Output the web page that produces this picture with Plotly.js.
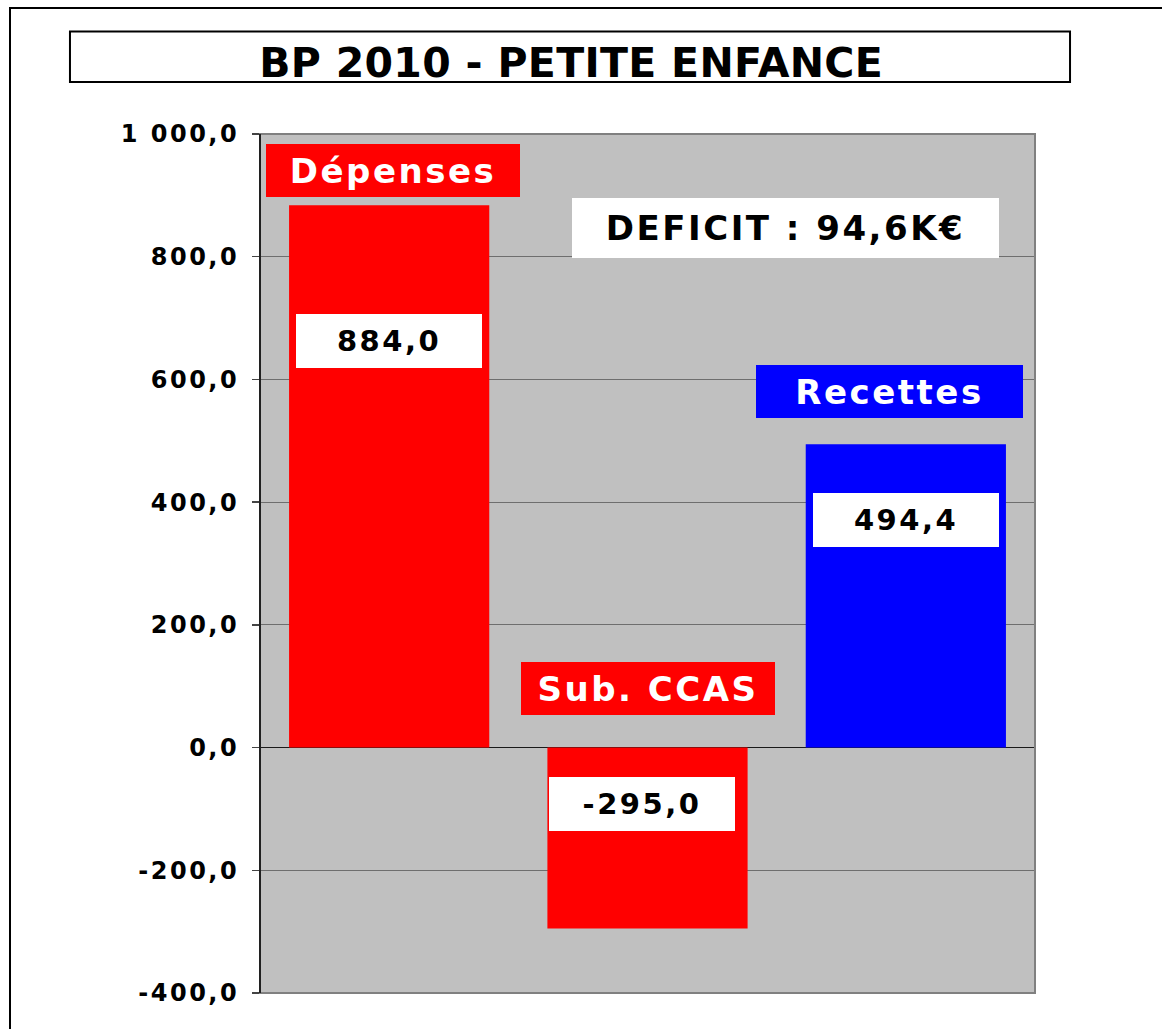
<!DOCTYPE html>
<html>
<head>
<meta charset="utf-8">
<script src="https://cdn.plot.ly/plotly-3.0.1.min.js"></script>
<style>
  html, body { margin: 0; padding: 0; background: #ffffff; overflow: hidden; }
  #wrap { position: relative; width: 1162px; height: 1029px; overflow: hidden; }
  #frame { position: absolute; left: 9px; top: 7px; width: 1200px; height: 1100px; border: 2px solid #000; }
  #chart { position: absolute; left: 0; top: 0; width: 1162px; height: 1029px; }
  #chart svg text { letter-spacing: 2.5px; }
  #chart svg .gtitle { letter-spacing: 0.3px; }
</style>
</head>
<body>
<div id="wrap">
  <div id="frame"></div>
  <div id="chart"></div>
</div>
<script>
// ---- data ----
const categories = ["Dépenses", "Sub. CCAS", "Recettes"];
const values = [884.0, -295.0, 494.4];
const barColors = ["#ff0000", "#ff0000", "#0000ff"];
const titleText = "BP 2010 - PETITE ENFANCE";
const deficitText = "DEFICIT : 94,6K€";
const yTickVals = [-400, -200, 0, 200, 400, 600, 800, 1000];

// ---- label placement (layout only) ----
const nameLabelX = [0.015, 1.0, 1.937];
const nameLabelY = [940, 97, 580];
const valueLabelX = [0, 0.98, 2.0];
const deficitPos = { x: 1.534, y: 846 };

function fmt(v) {
  return v.toFixed(1).replace('.', ',');
}
function fmtTick(v) {
  const s = Math.abs(v).toFixed(1).replace('.', ',');
  const parts = s.split(',');
  const intPart = parts[0].replace(/\B(?=(\d{3})+(?!\d))/g, ' ');
  return (v < 0 ? '-' : '') + intPart + ',' + parts[1];
}

const trace = {
  type: 'bar',
  x: categories,
  y: values,
  marker: { color: barColors, line: { width: 0 } },
  hoverinfo: 'skip',
  showlegend: false
};

const annotations = [];
categories.forEach((c, i) => {
  annotations.push({
    xref: 'x', yref: 'y', x: nameLabelX[i], y: nameLabelY[i],
    text: '<b>' + c + '</b>', showarrow: false,
    font: { family: 'DejaVu Sans', size: 34, color: '#ffffff' },
    bgcolor: barColors[i], borderwidth: 0, borderpad: 0,
    width: (i === 2 ? 267 : 254), height: 53,
    xanchor: 'center', yanchor: 'middle', align: 'center', valign: 'middle'
  });
  const v = values[i];
  annotations.push({
    xref: 'x', yref: 'y', x: valueLabelX[i], y: v > 0 ? v * 0.75 : v * 0.313,
    text: '<b>' + fmt(v) + '</b>', showarrow: false,
    font: { family: 'DejaVu Sans', size: 29, color: '#000000' },
    bgcolor: '#ffffff', borderwidth: 0, borderpad: 0,
    width: 186, height: 54,
    xanchor: 'center', yanchor: 'middle', align: 'center', valign: 'middle'
  });
});
annotations.push({
  xref: 'x', yref: 'y', x: deficitPos.x, y: deficitPos.y,
  text: '<b>' + deficitText + '</b>', showarrow: false,
  font: { family: 'DejaVu Sans', size: 34, color: '#000000' },
  bgcolor: '#ffffff', borderwidth: 0, borderpad: 0,
  width: 427, height: 60,
  xanchor: 'center', yanchor: 'middle', align: 'center', valign: 'middle'
});

const layout = {
  width: 1162, height: 1029,
  margin: { l: 260, r: 127, t: 134, b: 36, pad: 0 },
  paper_bgcolor: 'rgba(0,0,0,0)',
  plot_bgcolor: '#c0c0c0',
  separators: ', ',
  bargap: 0.225,
  title: {
    text: '<b>' + titleText + '</b>',
    font: { family: 'DejaVu Sans', size: 41, color: '#000000' },
    x: 0.4915, xanchor: 'center', xref: 'container',
    y: 0.9395, yanchor: 'middle', yref: 'container'
  },
  xaxis: {
    type: 'category', showticklabels: false, ticks: '', showgrid: false,
    zeroline: false, showline: false, range: [-0.5, 2.5], fixedrange: true
  },
  yaxis: {
    range: [-400, 1000], tickmode: 'array', tickvals: yTickVals, ticktext: yTickVals.map(fmtTick),
    showgrid: true, gridcolor: '#6e6e6e', gridwidth: 1,
    zeroline: true, zerolinecolor: '#1a1a1a', zerolinewidth: 1.5,
    showline: false,
    ticks: 'outside', ticklen: 7, tickwidth: 1.5, tickcolor: '#444',
    ticklabelstandoff: 8,
    tickfont: { family: 'DejaVu Sans', size: 24, color: '#000', weight: 'bold' },
    fixedrange: true
  },
  shapes: [
    { type: 'rect', xref: 'paper', yref: 'paper', x0: -0.2452, x1: 1.0452, y0: 1.0605, y1: 1.1193,
      line: { color: '#000', width: 2 }, fillcolor: 'rgba(0,0,0,0)', layer: 'above' },
    { type: 'rect', xref: 'paper', yref: 'paper', x0: 0, x1: 1, y0: 0, y1: 1,
      line: { color: '#808080', width: 2 }, fillcolor: 'rgba(0,0,0,0)', layer: 'above' },
    { type: 'line', xref: 'paper', yref: 'paper', x0: 0, x1: 0, y0: 0, y1: 1,
      line: { color: '#000', width: 1.5 }, layer: 'above' }
  ],
  annotations: annotations
};

Plotly.newPlot('chart', [trace], layout, { displayModeBar: false, staticPlot: true });
</script>
</body>
</html>
